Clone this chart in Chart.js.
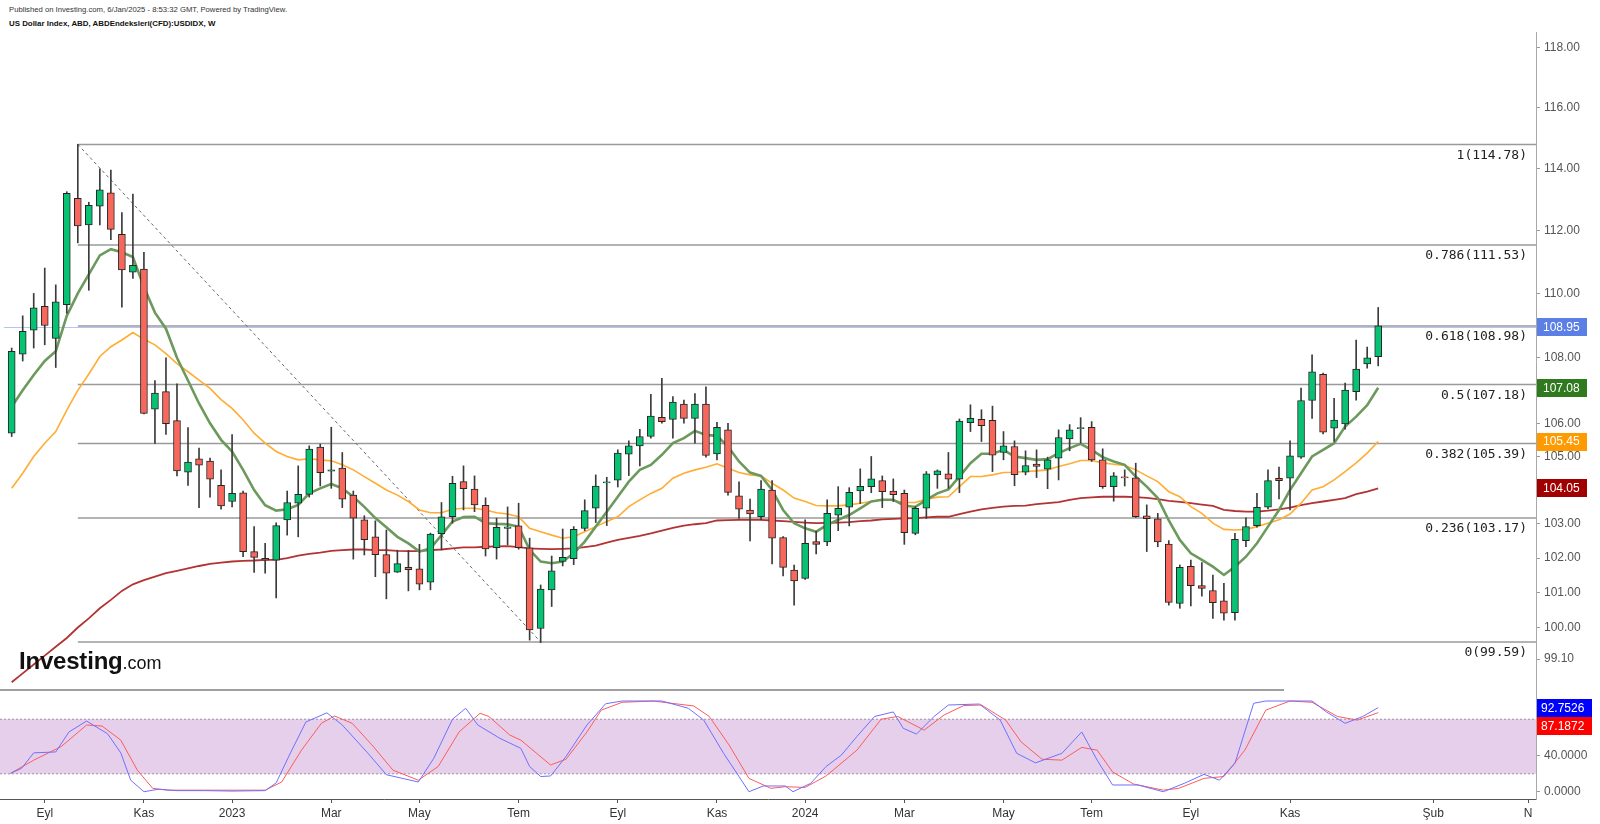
<!DOCTYPE html>
<html>
<head>
<meta charset="utf-8">
<script src="https://cdn.jsdelivr.net/npm/chart.js@4.4.1/dist/chart.umd.min.js"></script>
<style>
  body { margin: 0; background: #fff; width: 1600px; height: 824px; overflow: hidden; position: relative; font-family: 'Liberation Sans', Arial, sans-serif; }
  canvas { position: absolute; left: 0; }
  #main { top: 0; }
  #osc { top: 690px; }
  .hdr1 { position: absolute; left: 9px; top: 5px; font-size: 7.7px; color: #333; white-space: nowrap; }
  .hdr2 { position: absolute; left: 9px; top: 19px; font-size: 7.9px; font-weight: bold; color: #111; white-space: nowrap; }
  .sep { position: absolute; left: 0; top: 689px; width: 1284px; height: 2px; background: #a0a0a0; }
  .logo { position: absolute; left: 19px; top: 647px; color: #111; white-space: nowrap; z-index: 2; }
  .logo b { font-size: 24px; letter-spacing: -0.2px; }
  .logo span { font-size: 18px; }
</style>
</head>
<body>
<div class="hdr1">Published on Investing.com, 6/Jan/2025 - 8:53:32 GMT, Powered by TradingView.</div>
<div class="hdr2">US Dollar Index, ABD, ABDEndeksleri(CFD):USDIDX, W</div>
<canvas id="main" width="1600" height="692"></canvas>
<canvas id="osc" width="1600" height="134"></canvas>
<div class="sep"></div>
<div class="logo"><b>Investing</b><span>.com</span></div>
<script>
// weekly candles, week 0 = 15 Aug 2022, week 124 = 30 Dec 2024
const opens = [105.7,108.11,108.85,109.6,108.6,109.65,113.03,112.17,112.77,113.2,111.87,110.67,110.77,106.43,106.96,106.08,104.53,104.93,104.86,104.14,
  103.66,103.92,102.19,101.99,101.94,103.12,103.61,103.87,105.28,104.56,104.65,103.85,103.12,102.62,102.1,101.59,101.73,101.69,101.3,102.71,
  103.21,104.25,104.03,103.55,102.3,102.87,102.94,102.3,99.97,101.08,101.9,101.98,102.87,103.46,104.21,104.29,105.07,105.32,105.6,106.18,
  106.12,106.58,106.15,106.58,105.08,105.8,103.83,103.41,103.21,104.0,102.6,101.65,101.41,102.48,102.47,103.26,103.49,103.97,104.1,104.28,
  103.97,103.9,102.72,103.46,104.45,104.48,104.32,106.02,106.12,106.09,105.12,105.3,104.53,104.77,104.62,104.95,105.53,105.84,105.88,104.9,
  104.1,104.39,104.36,103.24,103.15,102.41,100.69,101.76,101.2,101.06,100.76,100.42,102.51,102.95,103.49,104.35,104.35,104.98,106.69,107.49,
  105.85,105.98,106.96,107.81,108.03];
const highs = [108.3,109.3,110.0,110.8,110.27,113.24,114.78,112.9,113.98,113.94,112.57,113.16,111.3,107.3,108.0,107.2,105.87,105.25,104.95,104.6,
  105.66,103.97,102.92,102.43,103.03,103.97,104.72,105.32,105.37,105.88,105.12,103.97,103.24,103.09,102.82,102.23,102.22,102.4,102.73,103.63,
  104.41,104.72,104.42,103.77,103.17,103.5,103.61,102.58,101.22,102.06,102.85,102.92,103.71,104.45,104.38,105.2,105.47,105.82,106.88,107.37,
  106.81,106.7,106.9,107.11,106.03,106.0,104.24,103.73,104.28,104.28,102.63,101.8,103.12,102.78,103.71,104.1,104.07,104.63,105.0,104.42,
  104.33,104.0,103.51,104.55,104.6,105.12,106.13,106.56,106.41,106.52,105.75,105.47,105.17,105.2,104.98,105.8,105.96,106.17,106.05,105.23,
  104.52,104.6,104.8,103.56,103.31,102.51,101.8,101.94,101.87,101.51,101.27,102.72,103.18,103.9,104.6,104.68,105.47,107.07,108.09,107.53,
  106.76,107.22,108.55,108.33,109.56];
const lows = [105.6,107.9,108.3,108.4,107.7,109.38,111.6,110.1,112.17,111.7,109.57,110.47,106.28,105.39,105.66,104.42,104.14,103.48,103.79,103.43,
  103.5,102.04,101.58,101.56,100.85,102.67,102.62,103.79,104.12,104.05,103.48,101.97,102.09,101.46,100.82,101.58,101.05,101.08,101.08,102.24,
  103.02,103.41,103.36,102.06,101.97,102.39,102.26,99.64,99.57,100.6,101.77,101.81,102.8,103.04,102.95,104.09,104.43,104.72,105.55,106.0,
  105.55,106.0,105.4,104.98,104.9,103.85,103.16,102.5,103.12,101.83,101.48,100.64,101.38,102.12,102.36,102.8,102.94,103.6,103.92,103.48,
  103.66,102.4,102.68,103.16,104.05,104.05,103.92,105.75,105.45,104.55,104.9,104.13,104.45,104.37,104.04,104.3,105.17,105.4,104.85,104.05,
  103.67,104.12,103.19,102.19,102.33,100.64,100.55,100.62,100.9,100.26,100.21,100.21,102.33,102.9,103.44,103.74,103.41,104.94,106.15,105.68,
  105.45,105.82,106.7,107.68,107.75];
const closes = [108.2,108.82,109.55,109.0,109.74,113.19,112.14,112.8,113.3,112.03,110.74,110.89,106.3,106.92,105.99,104.57,104.83,104.74,104.32,103.53,
  103.9,102.19,102.02,101.94,102.95,103.63,103.87,105.22,104.52,104.6,103.73,103.17,102.54,102.1,101.56,101.84,101.66,101.24,102.7,103.21,
  104.2,104.04,103.56,102.27,102.9,102.91,102.3,99.93,101.1,101.63,102.02,102.84,103.39,104.12,104.24,105.1,105.32,105.6,106.22,106.05,
  106.64,106.15,106.58,105.03,105.88,103.93,103.43,103.29,104.03,102.58,101.73,101.34,102.43,102.4,103.31,103.46,103.93,104.11,104.33,103.95,
  103.86,102.74,103.46,104.48,104.57,104.32,106.07,106.15,105.93,105.04,105.32,104.46,104.73,104.7,104.9,105.57,105.8,105.87,104.9,104.1,
  104.42,104.36,103.21,103.15,102.47,100.72,101.73,101.2,101.12,100.71,100.41,102.55,102.92,103.49,104.28,104.28,105.02,106.69,107.57,105.73,
  106.1,107.01,107.65,108.0,108.99];

// moving averages
const maFast = [106.5,107.0,107.47,107.9,108.2,109.3,110.0,110.6,111.2,111.4,111.3,111.15,110.2,109.4,108.9,108.0,107.3,106.6,106.0,105.5,
  105.15,104.6,104.0,103.55,103.39,103.43,103.56,103.9,104.05,104.18,104.05,103.8,103.5,103.17,102.9,102.62,102.43,102.19,102.28,102.67,
  103.07,103.2,103.21,103.02,103.0,102.99,102.92,102.24,101.9,101.85,101.9,102.14,102.48,102.92,103.36,103.8,104.25,104.6,104.75,105.05,
  105.4,105.55,105.77,105.65,105.62,105.3,104.85,104.52,104.42,104.0,103.41,103.02,102.87,102.77,102.97,103.12,103.26,103.46,103.66,103.71,
  103.71,103.54,103.5,103.71,103.9,104.02,104.4,104.8,105.08,105.08,105.2,105.0,104.95,104.9,104.92,105.1,105.25,105.38,105.2,104.98,
  104.85,104.75,104.4,104.1,103.76,103.1,102.53,102.14,101.95,101.75,101.51,101.75,102.04,102.43,102.92,103.41,104.0,104.5,105.0,105.2,
  105.4,105.9,106.2,106.55,107.08];
const maMid = [104.05,104.5,105.0,105.4,105.75,106.4,107.0,107.5,108.04,108.34,108.55,108.78,108.57,108.4,108.13,107.82,107.57,107.31,107.06,106.72,
  106.45,106.1,105.7,105.4,105.15,105.0,104.9,104.93,104.9,104.87,104.75,104.6,104.4,104.2,104.0,103.85,103.66,103.41,103.33,103.33,
  103.43,103.46,103.46,103.41,103.33,103.29,103.21,102.87,102.77,102.67,102.58,102.62,102.77,102.92,103.07,103.21,103.51,103.71,103.9,104.05,
  104.35,104.5,104.6,104.68,104.78,104.65,104.52,104.45,104.42,104.2,104.0,103.76,103.66,103.54,103.53,103.53,103.56,103.61,103.66,103.71,
  103.69,103.63,103.63,103.73,103.79,103.8,104.1,104.4,104.4,104.45,104.52,104.53,104.55,104.57,104.6,104.7,104.78,104.88,104.88,104.81,
  104.77,104.73,104.6,104.42,104.25,103.95,103.8,103.51,103.31,103.02,102.84,102.82,102.84,102.92,103.02,103.12,103.29,103.61,104.0,104.1,
  104.3,104.55,104.81,105.1,105.45];
const maSlow = [98.45,98.7,98.95,99.2,99.45,99.7,100.0,100.26,100.55,100.79,101.05,101.24,101.36,101.46,101.56,101.63,101.7,101.77,101.83,101.87,
  101.9,101.92,101.93,101.95,101.95,102.0,102.07,102.12,102.16,102.21,102.23,102.25,102.25,102.23,102.23,102.21,102.2,102.2,102.23,102.25,
  102.28,102.31,102.31,102.33,102.34,102.35,102.32,102.28,102.27,102.26,102.27,102.28,102.32,102.36,102.45,102.53,102.59,102.65,102.72,102.8,
  102.88,102.95,102.99,103.02,103.1,103.11,103.12,103.12,103.12,103.1,103.08,103.06,103.04,103.02,103.03,103.04,103.05,103.08,103.1,103.13,
  103.15,103.16,103.17,103.19,103.21,103.21,103.29,103.36,103.43,103.47,103.51,103.53,103.54,103.58,103.61,103.64,103.71,103.76,103.78,103.8,
  103.8,103.8,103.79,103.77,103.73,103.68,103.65,103.61,103.57,103.53,103.41,103.38,103.36,103.36,103.39,103.43,103.48,103.55,103.61,103.66,
  103.71,103.76,103.88,103.95,104.05];

// stochastic, read as (week, value) vertices
const kWeeks = [-0.1,0.9,2,4,5.2,6.8,8.7,9.9,10.8,12,13.3,15,17.5,20,23,24,25.3,26.7,28.6,30,32.3,34,36.9,38.3,40,41.2,42.3,44.3,46.2,47,48,48.9,50.3,52.2,53.9,55.4,59,61.4,62.8,64.6,66,66.9,68.2,70.2,70.9,72.5,73.9,75.3,76.7,78.3,80,80.9,82.1,83.7,85,87.8,89.7,91.2,92.9,95.3,97.1,98.5,99.9,102.2,104.5,106.4,108.2,109.6,111,112.7,113.8,118,119.3,121,122.6,124];
const kValues = [20.5,26,43,44,66,78,64,43,13,0.3,3,1.5,1.5,1,1.5,10,43,77,87,73.6,43,19,11,37,80,92,73.6,59,48,28,17,17.6,39,73.6,97,100,100,92,79,42.5,17,0.3,6.6,6.6,0.3,9.5,28,40.7,61,83,88,70,63.7,83,95.6,96.7,79,42.5,32,42.5,66,35,7.7,7.7,0.3,9.5,19.4,13,31.5,97.5,100,100,88,75.5,83,92.75];
const dWeeks = [-0.1,2,4.5,6.8,8.2,9.9,11.4,12.8,14.2,23,24.5,26.3,28.1,29.3,30.9,32.7,34.6,36.9,38.7,40.6,42.5,43.3,45.2,46.2,48.9,50.3,52.2,53.5,55.4,58.2,61.9,63.3,65.1,66.9,68.9,70.2,72,73.9,76.7,78.9,80.4,82.8,84.6,86.4,88,90.2,91.6,93.5,95.3,97.1,98.5,99.9,101.8,104.5,105.9,108.2,110,111.9,113.8,116,118,120.3,122.1,124];
const dValues = [20.5,35,50,73.6,72.5,57,24,4,2,2,11,46,75.5,83.5,75.5,51.6,24,13,28,66,86.5,83,62.6,57,29.7,36,66,90,98.6,100,94.5,83,51.6,15,4,5.8,5,17.6,46,80,83,68,84.6,95,95.6,79,55,36,35,49,46,22,8.8,2,4,15,17,46,90,100,98.6,83,79,87.19];

// fibonacci retracement drawn from the 114.78 top (week 6) to the 99.59 low (week 48)
const fibRatios = ['1','0.786','0.618','0.5','0.382','0.236','0'];
const fibValues = [114.78,111.53,108.98,107.18,105.39,103.17,99.59];
const fibFrom = 6, fibTo = 48;

const lastClose = 108.95;
const lastLabels = ['108.95','107.08','105.45','104.05'];
const lastValues = [108.95,107.08,105.45,104.05];
const lastColors = ['#5b7fe4','#2f7a1e','#ff9a00','#a00000'];

const yTickValues = [118,116,114,112,110,108,106,105,103,102,101,100,99.1];
const yTickLabels = ['118.00','116.00','114.00','112.00','110.00','108.00','106.00','105.00','103.00','102.00','101.00','100.00','99.10'];

// month ticks sit on the first weekly bar of the month
const xTickWeeks = [3,12,20,29,37,46,55,64,72,81,90,98,107,116,129,137.6];
const xTickLabels = ['Eyl','Kas','2023','Mar','May','Tem','Eyl','Kas','2024','Mar','May','Tem','Eyl','Kas','Şub','N'];

const oscTickValues = [40,0];
const oscTickLabels = ['40.0000','0.0000'];
const oscLast = ['92.7526','87.1872'];

const xMin = -1.06, xMax = 138.32;

Chart.defaults.font.family = "'Liberation Sans', Arial, sans-serif";

const bodies = opens.map((o, i) => ({x: i, y: [o, closes[i]]}));
const wicks = lows.map((l, i) => ({x: i, y: [l, highs[i]]}));
const bodyColors = opens.map((o, i) => closes[i] >= o ? '#08c273' : '#f8675b');
const line = arr => arr.map((v, i) => ({x: i, y: v}));

// keep the right axes from pushing the plot area in
function fixAxis(s) {
    s.width = 64;
    s.paddingTop = 0;
    s.paddingBottom = 0;
}

const mainDecor = {
    id: 'mainDecor',
    beforeDatasetsDraw(chart) {
        const {ctx, chartArea: a, scales: {x, y}} = chart;
        ctx.save();
        // last price line
        ctx.strokeStyle = 'rgba(90,125,230,0.45)';
        ctx.lineWidth = 1;
        let py = Math.round(y.getPixelForValue(lastClose)) + 0.5;
        ctx.beginPath(); ctx.moveTo(a.left + 4, py); ctx.lineTo(a.right, py); ctx.stroke();
        // fib levels
        ctx.strokeStyle = '#9a9a9a';
        ctx.lineWidth = 1.5;
        const x0 = x.getPixelForValue(fibFrom);
        fibValues.forEach(v => {
            const p = y.getPixelForValue(v);
            ctx.beginPath(); ctx.moveTo(x0, p); ctx.lineTo(a.right, p); ctx.stroke();
        });
        // trend line of the retracement
        ctx.strokeStyle = '#666';
        ctx.lineWidth = 1;
        ctx.setLineDash([3, 3]);
        ctx.beginPath();
        ctx.moveTo(x0, y.getPixelForValue(fibValues[0]));
        ctx.lineTo(x.getPixelForValue(fibTo), y.getPixelForValue(fibValues[6]));
        ctx.stroke();
        ctx.restore();
    },
    afterDraw(chart) {
        const {ctx, chartArea: a, scales: {y}} = chart;
        ctx.save();
        ctx.font = '13px "DejaVu Sans Mono", monospace';
        ctx.fillStyle = '#222';
        ctx.textAlign = 'right';
        ctx.textBaseline = 'middle';
        fibValues.forEach((v, i) => {
            ctx.fillText(fibRatios[i] + '(' + v.toFixed(2) + ')', a.right - 9, y.getPixelForValue(v) + 11);
        });
        ctx.font = '12px "Liberation Sans", Arial, sans-serif';
        ctx.textAlign = 'left';
        lastValues.forEach((v, i) => {
            const p = y.getPixelForValue(v);
            ctx.fillStyle = lastColors[i];
            ctx.fillRect(a.right + 1, Math.round(p - 9), 50, 18);
            ctx.fillStyle = '#fff';
            ctx.fillText(lastLabels[i], a.right + 7, p + 0.5);
        });
        ctx.restore();
    }
};

new Chart(document.getElementById('main'), {
    type: 'bar',
    data: {
        datasets: [
            {type: 'bar', data: bodies, backgroundColor: bodyColors, borderColor: '#262626', borderWidth: 1,
             borderSkipped: false, barThickness: 7, grouped: false, order: 0},
            {type: 'bar', data: wicks, backgroundColor: '#3b3b3b', barThickness: 1, grouped: false, order: 1},
            {type: 'line', data: line(maFast), borderColor: '#6c9a5c', borderWidth: 2.6, pointRadius: 0, order: 2},
            {type: 'line', data: line(maMid), borderColor: '#ffad33', borderWidth: 1.6, pointRadius: 0, order: 3},
            {type: 'line', data: line(maSlow), borderColor: '#b33333', borderWidth: 1.8, pointRadius: 0, order: 4}
        ]
    },
    options: {
        responsive: false,
        animation: false,
        events: [],
        layout: {padding: {top: 32, bottom: 2, left: 0, right: 0}},
        plugins: {legend: {display: false}, tooltip: {enabled: false}},
        scales: {
            x: {type: 'linear', min: xMin, max: xMax, display: false, offset: false},
            y: {
                type: 'logarithmic', position: 'right', min: 98.232, max: 118.52,
                afterFit: fixAxis,
                afterBuildTicks(s) { s.ticks = yTickValues.map(v => ({value: v})); },
                ticks: {autoSkip: false, color: '#555', font: {size: 12}, padding: 4,
                        callback: (v, i) => yTickLabels[i]},
                grid: {drawOnChartArea: false, tickLength: 4, color: '#9a9a9a'},
                border: {color: '#a8a8a8'}
            }
        }
    },
    plugins: [mainDecor]
});

const oscDecor = {
    id: 'oscDecor',
    beforeDatasetsDraw(chart) {
        const {ctx, chartArea: a, scales: {y}} = chart;
        const top = y.getPixelForValue(80), bot = y.getPixelForValue(20);
        ctx.save();
        ctx.fillStyle = 'rgba(206,160,214,0.5)';
        ctx.fillRect(a.left, top, a.right - a.left, bot - top);
        ctx.strokeStyle = '#a08ea6';
        ctx.lineWidth = 1;
        ctx.setLineDash([2, 2]);
        [top, bot].forEach(p => {
            ctx.beginPath(); ctx.moveTo(a.left, p); ctx.lineTo(a.right, p); ctx.stroke();
        });
        ctx.restore();
    },
    afterDraw(chart) {
        const {ctx, chartArea: a} = chart;
        ctx.save();
        ctx.font = '12px "Liberation Sans", Arial, sans-serif';
        ctx.textBaseline = 'middle';
        [['#0000ff', 9], ['#ff0000', 27]].forEach((c, i) => {
            ctx.fillStyle = c[0];
            ctx.fillRect(a.right + 1, c[1], 55, 18);
            ctx.fillStyle = '#fff';
            ctx.fillText(oscLast[i], a.right + 5, c[1] + 9.5);
        });
        ctx.restore();
    }
};

new Chart(document.getElementById('osc'), {
    type: 'line',
    data: {
        datasets: [
            {data: kWeeks.map((w, i) => ({x: w, y: kValues[i]})), borderColor: '#6f6fff', borderWidth: 1, pointRadius: 0},
            {data: dWeeks.map((w, i) => ({x: w, y: dValues[i]})), borderColor: '#ff5a5a', borderWidth: 1, pointRadius: 0}
        ]
    },
    options: {
        responsive: false,
        animation: false,
        events: [],
        layout: {padding: {top: 1, bottom: 0, left: 0, right: 0}},
        plugins: {legend: {display: false}, tooltip: {enabled: false}},
        scales: {
            x: {
                type: 'linear', min: xMin, max: xMax, offset: false,
                afterFit(s) { s.height = 25; },
                afterBuildTicks(s) { s.ticks = xTickWeeks.map(v => ({value: v})); },
                ticks: {autoSkip: false, maxRotation: 0, color: '#333', font: {size: 12}, padding: 3,
                        callback: (v, i) => xTickLabels[i]},
                grid: {drawOnChartArea: false, tickLength: 4, color: '#555'},
                border: {color: '#555'}
            },
            y: {
                position: 'right', min: -7.7, max: 111,
                afterFit: fixAxis,
                afterBuildTicks(s) { s.ticks = oscTickValues.map(v => ({value: v})); },
                ticks: {autoSkip: false, color: '#555', font: {size: 12}, padding: 4,
                        callback: (v, i) => oscTickLabels[i]},
                grid: {drawOnChartArea: false, tickLength: 4, color: '#9a9a9a'},
                border: {color: '#a8a8a8'}
            }
        }
    },
    plugins: [oscDecor]
});
</script>
</body>
</html>
